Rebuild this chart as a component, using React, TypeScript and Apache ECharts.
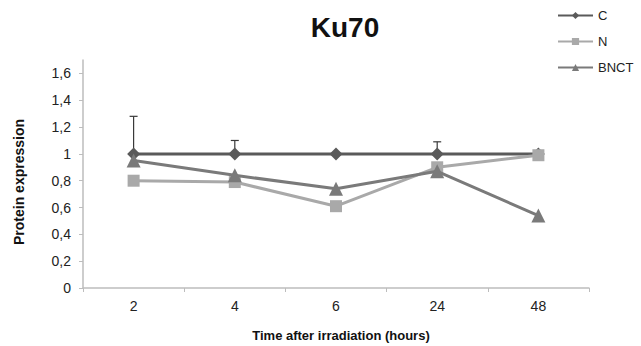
import React, { useEffect, useRef } from "react";
import * as echarts from "echarts";

const categories = ["2", "4", "6", "24", "48"];
const seriesC = [1, 1, 1, 1, 1];
const seriesN = [0.8, 0.79, 0.61, 0.9, 0.99];
const seriesBNCT = [0.95, 0.84, 0.74, 0.87, 0.54];
// upper end of the error bar on series C (null = none drawn)
const errorTopC = [1.28, 1.1, null, 1.09, 1.02];
const yTicks = [0, 0.2, 0.4, 0.6, 0.8, 1, 1.2, 1.4, 1.6];

const FONT = "Liberation Sans, Arial, sans-serif";

export default function App() {
  const ref = useRef<HTMLDivElement>(null);

  useEffect(() => {
    if (!ref.current) return;
    const chart = echarts.init(ref.current, null, { renderer: "svg" });

    const errData = errorTopC
      .map((top, i) => (top == null ? null : [i, seriesC[i], top]))
      .filter((d) => d != null);

    chart.setOption({
      animation: false,
      backgroundColor: "#ffffff",
      textStyle: { fontFamily: FONT },
      title: {
        text: "Ku70",
        left: 340,
        top: 8,
        textAlign: "center",
        textStyle: { fontFamily: FONT, fontSize: 28, fontWeight: "bold", color: "#111" },
      },
      legend: {
        orient: "vertical",
        left: 552,
        top: 4,
        itemWidth: 35,
        itemHeight: 9,
        itemGap: 13,
        textStyle: { fontFamily: FONT, fontSize: 13, color: "#222" },
        data: ["C", "N", "BNCT"],
      },
      grid: { left: 83, right: 52, top: 60, bottom: 58 },
      xAxis: {
        type: "category",
        data: categories,
        boundaryGap: true,
        axisLine: { lineStyle: { color: "#bdbdbd", width: 1.5 } },
        axisTick: { show: true, length: 4, inside: false, lineStyle: { color: "#bdbdbd" } },
        axisLabel: { fontFamily: FONT, fontSize: 14, color: "#222", margin: 11 },
      },
      yAxis: {
        type: "value",
        min: 0,
        max: 1.7,
        splitLine: { show: false },
        axisLine: { show: true, lineStyle: { color: "#bdbdbd", width: 1.5 } },
        axisTick: { show: true, length: 4, customValues: yTicks, lineStyle: { color: "#bdbdbd" } },
        axisLabel: {
          fontFamily: FONT,
          fontSize: 14,
          color: "#222",
          margin: 12,
          customValues: yTicks,
          formatter: (v: number) => String(Math.round(v * 10) / 10).replace(".", ","),
        },
      },
      graphic: [
        {
          type: "text",
          x: 19,
          y: 182,
          rotation: Math.PI / 2,
          style: {
            text: "Protein expression",
            fontFamily: FONT,
            fontSize: 14,
            fontWeight: "bold",
            fill: "#111",
            align: "center",
            verticalAlign: "middle",
          },
        },
        {
          type: "text",
          x: 341,
          y: 335,
          style: {
            text: "Time after irradiation (hours)",
            fontFamily: FONT,
            fontSize: 13,
            fontWeight: "bold",
            fill: "#111",
            align: "center",
            verticalAlign: "middle",
          },
        },
      ],
      series: [
        {
          type: "custom",
          name: "errC",
          z: 1,
          data: errData,
          renderItem: (params: any, api: any) => {
            const base = api.coord([api.value(0), api.value(1)]);
            const top = api.coord([api.value(0), api.value(2)]);
            const style = { stroke: "#3a3a3a", lineWidth: 1.2 };
            return {
              type: "group",
              children: [
                { type: "line", shape: { x1: base[0], y1: base[1], x2: top[0], y2: top[1] }, style },
                { type: "line", shape: { x1: top[0] - 4, y1: top[1], x2: top[0] + 4, y2: top[1] }, style },
              ],
            };
          },
        },
        {
          type: "line",
          name: "C",
          data: seriesC,
          z: 2,
          symbol: "diamond",
          symbolSize: 13,
          color: "#5a5a5a",
          lineStyle: { width: 3, color: "#5a5a5a" },
          itemStyle: { color: "#5a5a5a" },
        },
        {
          type: "line",
          name: "N",
          data: seriesN,
          z: 3,
          symbol: "rect",
          symbolSize: 12,
          color: "#a9a9a9",
          lineStyle: { width: 3, color: "#a9a9a9" },
          itemStyle: { color: "#a9a9a9" },
        },
        {
          type: "line",
          name: "BNCT",
          data: seriesBNCT,
          z: 4,
          symbol: "triangle",
          symbolSize: 14,
          color: "#7a7a7a",
          lineStyle: { width: 3, color: "#7a7a7a" },
          itemStyle: { color: "#7a7a7a" },
        },
      ],
    });

    return () => chart.dispose();
  }, []);

  return <div ref={ref} style={{ width: 641, height: 346, position: "absolute", left: 0, top: 0 }} />;
}
